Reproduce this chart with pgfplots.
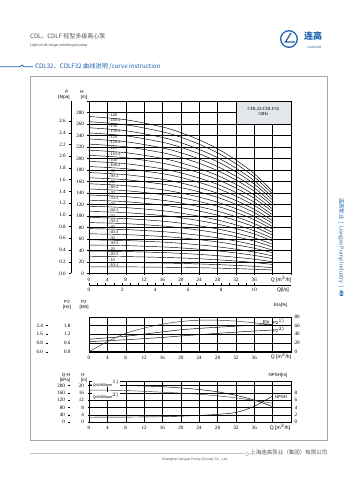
\documentclass[border=0pt]{standalone}
\usepackage{pgfplots}
\pgfplotsset{compat=1.18}
\usepackage{pgfplotstable}
\usepackage{fontspec}
\setmainfont{Liberation Serif}
\newfontfamily\sans{Liberation Sans}
\newfontfamily\cjk{Noto Sans CJK SC}
\definecolor{lgblue}{HTML}{1F63AE}
\definecolor{boxgray}{HTML}{E3E6EA}
\definecolor{txtgray}{HTML}{555555}
\newcommand\fs[1]{\fontsize{#1}{#1}\selectfont}

\pgfplotstableread{
Q h140 h140b h130 h130b h120 h120b h110 h110b h100 h100b h90 h90b h80 h80b h70 h70b h60 h60b h50 h50b h40 h40b h30 h30b h20 h20b h10 h10b
0 273 264.0 253.5 244.5 234 225.0 214.5 205.5 195 186.0 175.5 166.5 156 147.0 136.5 127.5 117 108.0 97.5 88.5 78 69.0 58.5 49.5 39 30.0 19.5 11.7
8 267.4 258.6 248.3 239.5 229.2 220.4 210.1 201.3 191 182.2 171.9 163.1 152.8 144.0 133.7 124.9 114.6 105.8 95.5 86.7 76.4 67.6 57.3 48.5 38.2 29.4 19.1 11.5
16 254.8 246.4 236.6 228.2 218.4 210.0 200.2 191.8 182 173.6 163.8 155.4 145.6 137.2 127.4 119.0 109.2 100.8 91 82.6 72.8 64.4 54.6 46.2 36.4 28.0 18.2 10.9
20 245 237.0 227.5 219.5 210 202.0 192.5 184.5 175 167.0 157.5 149.5 140 132.0 122.5 114.5 105 97.0 87.5 79.5 70 62.0 52.5 44.5 35 27.0 17.5 10.5
24 232.4 224.8 215.8 208.2 199.2 191.6 182.6 175.0 166 158.4 149.4 141.8 132.8 125.2 116.2 108.6 99.6 92.0 83 75.4 66.4 58.8 49.8 42.2 33.2 25.6 16.6 10.0
28 217 209.9 201.5 194.4 186 178.9 170.5 163.4 155 147.9 139.5 132.4 124 116.9 108.5 101.4 93 85.9 77.5 70.4 62 54.9 46.5 39.4 31 23.9 15.5 9.3
32 197.4 190.9 183.3 176.8 169.2 162.7 155.1 148.6 141 134.5 126.9 120.4 112.8 106.3 98.7 92.2 84.6 78.1 70.5 64.0 56.4 49.9 42.3 35.8 28.2 21.7 14.1 8.5
36 173.6 167.9 161.2 155.5 148.8 143.1 136.4 130.7 124 118.3 111.6 105.9 99.2 93.5 86.8 81.1 74.4 68.7 62 56.3 49.6 43.9 37.2 31.5 24.8 19.1 12.4 7.4
40 142.8 138.1 132.6 127.9 122.4 117.7 112.2 107.5 102 97.3 91.8 87.1 81.6 76.9 71.4 66.7 61.2 56.5 51 46.3 40.8 36.1 30.6 25.9 20.4 15.7 10.2 6.1
}\curves

\pgfplotstableread{
Q eta
0 0
4 23
8 42
12 54
16 63
20 69
24 72
28 72
32 70
36 66
40 62
}\etatab

\pgfplotstableread{
Q pa pb
0 0.85 0.69
8 1.06 0.82
16 1.36 0.98
20 1.50 1.08
24 1.60 1.17
32 1.75 1.34
40 1.88 1.49
}\powtab

\pgfplotstableread{
Q qa qb
0 20.3 17.5
8 20.0 17.2
16 19.3 16.3
20 18.6 15.8
24 17.8 15.2
28 16.5 14.3
32 14.6 13.2
36 12.0 11.8
40 8.4 10.2
}\qhtab

\pgfplotstableread{
Q n
0 1.3
8 1.35
16 1.45
24 1.8
28 2.1
32 2.6
36 4.3
40 7.1
}\npshtab

\pgfplotsset{
  lgbase/.style={scale only axis, anchor=south west,
    ticklabel style={font=\fs{5.1}},
    /pgf/number format/assume math mode=true,
    axis line style={black, line width=0.4pt},
    tick style={black, line width=0.3pt},
    major tick length=1.5pt, tick align=outside,
  },
  lggrid/.style={grid=major, major grid style={black, line width=0.35pt},
    xmin=0, xmax=44, xtick={0,4,...,44},
    xticklabels={0,4,8,12,16,20,24,28,32,36,,},
    xtick pos=bottom, ytick pos=left,
    xticklabel style={yshift=0.5pt},
  },
  lgscale/.style={lgbase, width=8pt, xmin=0, xmax=1, axis x line=none, axis y line*=left,
    yticklabel style={/pgf/number format/.cd, fixed, fixed zerofill, precision=1}},
}

\begin{document}
\begin{tikzpicture}[x=1pt,y=1pt]
\useasboundingbox (0,0) rectangle (353,480);

% ---------- header ----------
\node[anchor=west, inner sep=0, text=txtgray] at (30,443.5) {\cjk\fs{6}CDL、CDLF 轻型多级离心泵};
\node[anchor=west, inner sep=0, text=txtgray] at (30,434.5) {\sans\fs{3.8}Light multi-stage centrifugal pump};
\draw[lgblue, line width=1.3pt] (289,441) circle (8.3);
\draw[lgblue, line width=1.3pt] (291,447) -- (285.5,438) -- (295,438);
\node[anchor=west, inner sep=0, text=lgblue] at (304,443.5) {\cjk\fs{9}\bfseries 连高};
\node[anchor=west, inner sep=0, text=lgblue] at (307,432.5) {\sans\fs{3.2}LIANGAO};
\draw[lgblue, line width=0.8pt] (0,413.3) -- (20,413.3) -- (22,415) -- (24,413.3) -- (33,413.3);
\node[anchor=west, inner sep=0, text=lgblue] at (35,413.3) {\cjk\fs{6.2}CDL32、CDLF32 曲线说明 /curve instruction};

% frame
\draw[black!35, line width=0.6pt] (30.7,40) rectangle (327.7,403.3);

% right side vertical text
\node[rotate=-90, text=lgblue, inner sep=0] at (341,232.5) {\cjk\fs{5.3}连高泵业 \;|\; Liangao Pump Industry \;|\; \bfseries 49};

% footer
\draw[black!25, line width=1pt] (30,26) -- (244,26);
\draw[black!35, line width=0.4pt] (247,26) circle (1.8);
\node[anchor=east, inner sep=0, text=txtgray] at (327.5,27.5) {\cjk\fs{5.5}上海连高泵业（集团）有限公司};
\node[anchor=center, inner sep=0, text=txtgray] at (195,20.5) {\sans\fs{3.5}Shanghai Liangao Pump (Group) Co., Ltd.};

% ================= MAIN Q-H CHART =================
\begin{axis}[lgbase, lggrid, at={(89pt,206.5pt)}, width=202pt, height=172.5pt,
  ymin=0, ymax=300, ytick={0,20,...,300},
  yticklabels={0,20,40,60,80,100,120,140,160,180,200,220,240,260,280,},
  clip=false]
  \fill[boxgray] (axis cs:32,260) rectangle (axis cs:44,300);
  \draw[black, line width=0.35pt] (axis cs:32,260) rectangle (axis cs:44,300);
  \node[font=\fs{4.6}] at (axis cs:38,286) {CDL32/CDLF32};
  \node[font=\fs{4.6}] at (axis cs:38,277) {50Hz};
  \pgfplotsinvokeforeach{h140,h140b,h130,h130b,h120,h120b,h110,h110b,h100,h100b,h90,h90b,h80,h80b,h70,h70b,h60,h60b,h50,h50b,h40,h40b,h30,h30b,h20,h20b,h10,h10b}{
    \addplot[black, line width=0.45pt, smooth] table[x=Q, y=#1]{\curves};
  }
  \begin{scope}[every node/.style={anchor=west, inner sep=0.2pt, font=\fs{4.3}}]
  \node at (axis cs:4.3,276) {-140};
  \node at (axis cs:4.3,267) {-140-2};
  \node at (axis cs:4.3,256.5) {-130};
  \node at (axis cs:4.3,247.5) {-130-2};
  \node at (axis cs:4.3,237) {-120};
  \node at (axis cs:4.3,228) {-120-2};
  \node at (axis cs:4.3,217.5) {-110};
  \node at (axis cs:4.3,208.5) {-110-2};
  \node at (axis cs:4.3,198) {-100};
  \node at (axis cs:4.3,189) {-100-2};
  \node at (axis cs:4.3,178.5) {-90};
  \node at (axis cs:4.3,169.5) {-90-2};
  \node at (axis cs:4.3,159) {-80};
  \node at (axis cs:4.3,150) {-80-2};
  \node at (axis cs:4.3,139.5) {-70};
  \node at (axis cs:4.3,130.5) {-70-2};
  \node at (axis cs:4.3,120) {-60};
  \node at (axis cs:4.3,111) {-60-2};
  \node at (axis cs:4.3,100.5) {-50};
  \node at (axis cs:4.3,91.5) {-50-2};
  \node at (axis cs:4.3,81) {-40};
  \node at (axis cs:4.3,72) {-40-2};
  \node at (axis cs:4.3,61.5) {-30};
  \node at (axis cs:4.3,52.5) {-30-2};
  \node at (axis cs:4.3,42) {-20};
  \node at (axis cs:4.3,33) {-20-2};
  \node at (axis cs:4.3,22.5) {-10};
  \node at (axis cs:4.3,14.5) {-10-1};
  \end{scope}
\end{axis}

% P [MPa] scale
\begin{axis}[lgscale, at={(70.7pt,206.5pt)}, height=172.5pt, ymin=0, ymax=2.94,
  ytick={0,0.2,...,2.61}]
  \addplot[draw=none] coordinates {(0,0)};
\end{axis}

% Q [l/s] scale
\begin{axis}[lgbase, at={(89pt,195pt)}, width=202pt, height=4pt,
  xmin=0, xmax=12.2222, ymin=0, ymax=1, axis y line=none, axis x line*=bottom,
  xtick={0,2,...,10}, minor x tick num=3, tick align=inside, major tick length=2pt, minor tick length=1.5pt]
  \addplot[draw=none] coordinates {(0,0)};
\end{axis}

\node[font=\sans\fs{4.5}] at (82,388) {H};
\node[font=\sans\fs{4.5}] at (84,383) {[m]};
\node[font=\sans\fs{4.5}] at (67,388) {P};
\node[font=\sans\fs{4.5}] at (64,383) {[Mpa]};
\node[font=\sans\fs{5}, anchor=center] at (281,200.3) {Q [m$^3$/h]};
\node[font=\sans\fs{5}, anchor=center] at (283,189.5) {Q[l/s]};

% ================= POWER / EFFICIENCY CHART =================
\begin{axis}[lgbase, lggrid, at={(89pt,128.3pt)}, width=202pt, height=35pt,
  ymin=0, ymax=2.4, ytick={0,1.2,1.8,2.4}, yticklabels={}, ytick style={draw=none},
  extra y ticks={0.6}, extra y tick labels={}, extra y tick style={grid style={black!35, line width=0.35pt}, tick style={draw=none}}]
  \addplot[black, line width=0.45pt, smooth] table[x=Q, y=pa]{\powtab};
  \addplot[black, line width=0.45pt, smooth] table[x=Q, y=pb]{\powtab};
\end{axis}
\begin{axis}[lgbase, at={(89pt,128.3pt)}, width=202pt, height=35pt,
  xmin=0, xmax=44, ymin=0, ymax=80, axis x line=none, axis y line*=right,
  ytick={0,20,...,80}, major tick length=0pt, y axis line style={draw=none}]
  \addplot[black!80, line width=0.45pt, smooth] table[x=Q, y=eta]{\etatab};
\end{axis}
\begin{axis}[lgscale, at={(74pt,128.3pt)}, height=35pt, ymin=0, ymax=2.4,
  ytick={0,0.6,...,1.81}, y axis line style={draw=none}, major tick length=0pt]
  \addplot[draw=none] coordinates {(0,0)};
\end{axis}
\begin{axis}[lgscale, at={(48pt,128.3pt)}, height=35pt, ymin=0, ymax=3.2,
  ytick={0,0.8,...,2.41}, y axis line style={draw=none}]
  \addplot[draw=none] coordinates {(0,0)};
\end{axis}
\node[font=\sans\fs{4.5}] at (67,178) {P2};
\node[font=\sans\fs{4.5}] at (67,172.5) {[Hz]};
\node[font=\sans\fs{4.5}] at (84,178) {P2};
\node[font=\sans\fs{4.5}] at (84,172.5) {[kW]};
\node[font=\sans\fs{4.5}, anchor=east] at (291,175) {Eta[\%]};
\node[font=\sans\fs{4.3}] at (266,158) {Eta};
\node[font=\sans\fs{4.3}, fill=white, inner sep=0.5pt] at (279,158) {P2$^{1)}$};
\node[font=\sans\fs{4.3}, fill=white, inner sep=0.5pt] at (279,150) {P2$^{2)}$};
\node[font=\sans\fs{5}, anchor=center] at (281,123.3) {Q [m$^3$/h]};

% ================= Q-H / NPSH CHART =================
\begin{axis}[lgbase, lggrid, at={(89pt,58pt)}, width=202pt, height=41.3pt,
  ymin=0, ymax=22.6, ytick={0,8,12,16,20},
  extra y ticks={4}, extra y tick style={grid style={black!35, line width=0.35pt}}]
  \addplot[black, line width=0.45pt, smooth] table[x=Q, y=qa]{\qhtab};
  \addplot[black!75, line width=0.45pt, smooth] table[x=Q, y=qb]{\qhtab};
\end{axis}
\begin{axis}[lgbase, at={(89pt,58pt)}, width=202pt, height=41.3pt,
  xmin=0, xmax=44, ymin=0, ymax=11.3, axis x line=none, axis y line*=right,
  ytick={0,2,...,8}, major tick length=0pt, y axis line style={draw=none}]
  \addplot[black, line width=0.45pt, smooth] table[x=Q, y=n]{\npshtab};
\end{axis}
\begin{axis}[lgscale, at={(70pt,58pt)}, height=41.3pt, ymin=0, ymax=226,
  ytick={0,40,...,200}, yticklabel style={/pgf/number format/.cd, fixed, precision=0},
  y axis line style={draw=none}]
  \addplot[draw=none] coordinates {(0,0)};
\end{axis}
\node[font=\sans\fs{4.5}] at (66,105) {Q-H};
\node[font=\sans\fs{4.5}] at (65,100) {[kPa]};
\node[font=\sans\fs{4.5}] at (83,105) {H};
\node[font=\sans\fs{4.5}] at (84,100) {[m]};
\node[font=\sans\fs{4.5}, anchor=east] at (291,104.5) {NPSH[m]};
\node[font=\sans\fs{3.6}, fill=white, inner sep=0.6pt, anchor=west] at (92,96.5) {QH2900rpm$^{1)}$};
\node[font=\sans\fs{3.6}, fill=white, inner sep=0.6pt, anchor=west] at (92,84) {QH2900rpm$^{2)}$};
\node[font=\sans\fs{4.3}, fill=white, inner sep=0.5pt] at (281,83.3) {NPSH};
\node[font=\sans\fs{5}, anchor=center] at (280,53) {Q [m$^3$/h]};
\end{tikzpicture}
\end{document}
